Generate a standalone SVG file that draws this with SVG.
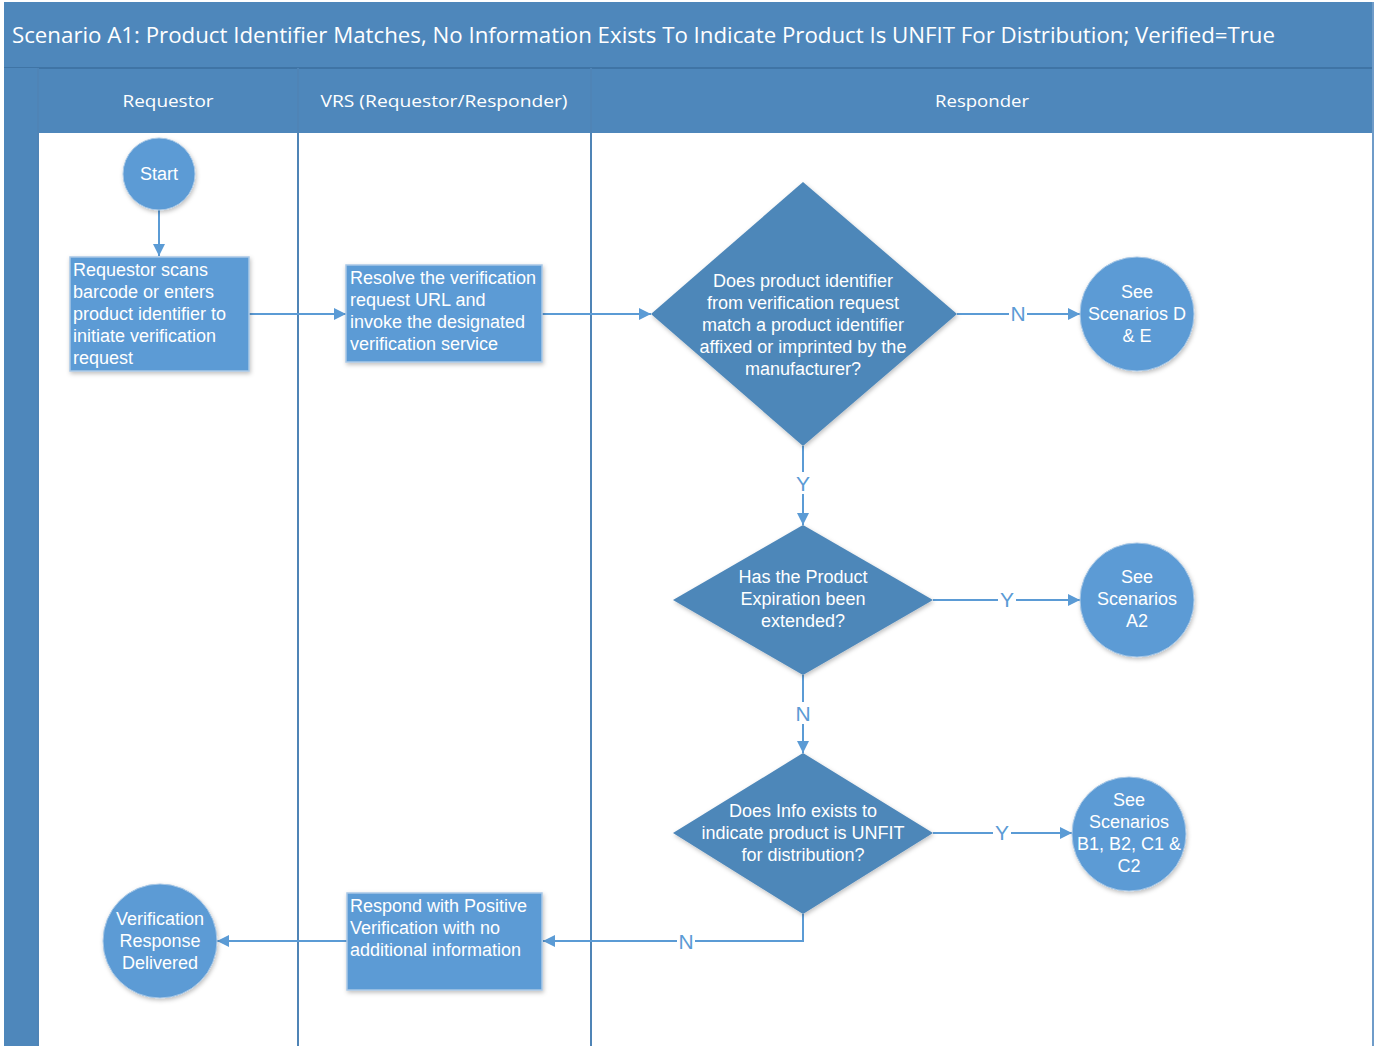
<svg xmlns="http://www.w3.org/2000/svg" width="1381" height="1046" viewBox="0 0 1381 1046">
<defs>
<style>
.band{fill:#4e87bb}
.lane{stroke:#4f84b6;stroke-width:2;fill:none}
.hdr{font-family:"Open Sans","Noto Sans",sans-serif;font-size:17px;fill:#ffffff;text-anchor:middle}
.box{fill:#5b9bd5;stroke:#a9c8e6;stroke-width:1.5;filter:url(#sh)}
.circ{fill:#5b9bd5;stroke:#a9c8e6;stroke-width:1;filter:url(#sh)}
.dia{fill:#4e87b9;filter:url(#sh)}
.t{font-family:"Liberation Sans",Arial,sans-serif;font-size:18px;fill:#ffffff}
.c{text-anchor:middle}
.con{stroke:#5b9bd5;stroke-width:2;fill:none}
.lbl{font-family:"Liberation Sans",Arial,sans-serif;font-size:21px;fill:#5b9bd5;text-anchor:middle}
</style>
<marker id="ah" viewBox="0 0 10 10" refX="10" refY="5" markerWidth="12" markerHeight="12" orient="auto" markerUnits="userSpaceOnUse">
<path d="M0,0 L10,5 L0,10 z" fill="#5b9bd5"/>
</marker>
<filter id="sh" x="-20%" y="-20%" width="140%" height="140%">
<feDropShadow dx="1" dy="2" stdDeviation="2" flood-color="#000000" flood-opacity="0.25"/>
</filter>
</defs>
<rect x="0" y="0" width="1381" height="1046" fill="#ffffff"/>
<g id="pool">
<rect class="band" x="4" y="2" width="1370" height="66"/>
<rect class="band" x="4" y="68" width="1370" height="65"/>
<line x1="4" y1="68" x2="1374" y2="68" stroke="#3f74a5" stroke-width="2"/>
<rect class="band" x="4" y="68" width="34" height="978"/>
<line class="lane" x1="38" y1="68" x2="38" y2="1046"/>
<line class="lane" x1="298" y1="68" x2="298" y2="1046"/>
<line class="lane" x1="591" y1="68" x2="591" y2="1046"/>
<line x1="1373" y1="2" x2="1373" y2="1046" stroke="#6f9cc9" stroke-width="2"/>
<text x="12" y="43" font-family="Open Sans,Noto Sans,sans-serif" font-size="22" fill="#ffffff" textLength="1263" lengthAdjust="spacingAndGlyphs">Scenario A1: Product Identifier Matches, No Information Exists To Indicate Product Is UNFIT For Distribution; Verified=True</text>
<text class="hdr" x="168" y="107" textLength="91" lengthAdjust="spacingAndGlyphs">Requestor</text>
<text class="hdr" x="444" y="107" textLength="247" lengthAdjust="spacingAndGlyphs">VRS (Requestor/Responder)</text>
<text class="hdr" x="982" y="107" textLength="94" lengthAdjust="spacingAndGlyphs">Responder</text>
</g>
<g id="connectors">
<line class="con" x1="159" y1="210" x2="159" y2="256" marker-end="url(#ah)"/>
<line class="con" x1="249" y1="314" x2="346" y2="314" marker-end="url(#ah)"/>
<line class="con" x1="542" y1="314" x2="651" y2="314" marker-end="url(#ah)"/>
<line class="con" x1="957" y1="314" x2="1080" y2="314" marker-end="url(#ah)"/>
<line class="con" x1="803" y1="446" x2="803" y2="525" marker-end="url(#ah)"/>
<line class="con" x1="933" y1="600" x2="1080" y2="600" marker-end="url(#ah)"/>
<line class="con" x1="803" y1="675" x2="803" y2="753" marker-end="url(#ah)"/>
<line class="con" x1="933" y1="833" x2="1072" y2="833" marker-end="url(#ah)"/>
<polyline class="con" points="803,914 803,941 543,941" marker-end="url(#ah)"/>
<line class="con" x1="347" y1="941" x2="217" y2="941" marker-end="url(#ah)"/>
<rect x="1009" y="302" width="18" height="22" fill="#ffffff"/>
<text class="lbl" x="1018" y="321">N</text>
<rect x="794" y="472" width="18" height="22" fill="#ffffff"/>
<text class="lbl" x="803" y="491">Y</text>
<rect x="998" y="588" width="18" height="22" fill="#ffffff"/>
<text class="lbl" x="1007" y="607">Y</text>
<rect x="794" y="702" width="18" height="22" fill="#ffffff"/>
<text class="lbl" x="803" y="721">N</text>
<rect x="993" y="821" width="18" height="22" fill="#ffffff"/>
<text class="lbl" x="1002" y="840">Y</text>
<rect x="677" y="930" width="18" height="22" fill="#ffffff"/>
<text class="lbl" x="686" y="949">N</text>
</g>
<g id="start">
<circle class="circ" cx="159" cy="174" r="36"/>
<text class="t c" x="159" y="180">Start</text>
</g>
<g id="scan">
<rect class="box" x="70" y="257" width="179" height="114"/>
<text class="t" x="73" y="276">Requestor scans</text>
<text class="t" x="73" y="298">barcode or enters</text>
<text class="t" x="73" y="320">product identifier to</text>
<text class="t" x="73" y="342">initiate verification</text>
<text class="t" x="73" y="364">request</text>
</g>
<g id="resolve">
<rect class="box" x="346" y="265" width="196" height="97"/>
<text class="t" x="350" y="284">Resolve the verification</text>
<text class="t" x="350" y="306">request URL and</text>
<text class="t" x="350" y="328">invoke the designated</text>
<text class="t" x="350" y="350">verification service</text>
</g>
<g id="d1">
<polygon class="dia" points="803,182 957,314 803,446 651,314"/>
<text class="t c" x="803" y="287">Does product identifier</text>
<text class="t c" x="803" y="309">from verification request</text>
<text class="t c" x="803" y="331">match a product identifier</text>
<text class="t c" x="803" y="353">affixed or imprinted by the</text>
<text class="t c" x="803" y="375">manufacturer?</text>
</g>
<g id="seeDE">
<circle class="circ" cx="1137" cy="314" r="57"/>
<text class="t c" x="1137" y="298">See</text>
<text class="t c" x="1137" y="320">Scenarios D</text>
<text class="t c" x="1137" y="342">&amp; E</text>
</g>
<g id="d2">
<polygon class="dia" points="803,525 933,600 803,675 673,600"/>
<text class="t c" x="803" y="583">Has the Product</text>
<text class="t c" x="803" y="605">Expiration been</text>
<text class="t c" x="803" y="627">extended?</text>
</g>
<g id="seeA2">
<circle class="circ" cx="1137" cy="600" r="57"/>
<text class="t c" x="1137" y="583">See</text>
<text class="t c" x="1137" y="605">Scenarios</text>
<text class="t c" x="1137" y="627">A2</text>
</g>
<g id="d3">
<polygon class="dia" points="803,753 933,833 803,914 673,833"/>
<text class="t c" x="803" y="817">Does Info exists to</text>
<text class="t c" x="803" y="839">indicate product is UNFIT</text>
<text class="t c" x="803" y="861">for distribution?</text>
</g>
<g id="seeBC">
<circle class="circ" cx="1129" cy="834" r="57"/>
<text class="t c" x="1129" y="806">See</text>
<text class="t c" x="1129" y="828">Scenarios</text>
<text class="t c" x="1129" y="850">B1, B2, C1 &amp;</text>
<text class="t c" x="1129" y="872">C2</text>
</g>
<g id="respond">
<rect class="box" x="347" y="893" width="195" height="97"/>
<text class="t" x="350" y="912">Respond with Positive</text>
<text class="t" x="350" y="934">Verification with no</text>
<text class="t" x="350" y="956">additional information</text>
</g>
<g id="delivered">
<circle class="circ" cx="160" cy="941" r="57"/>
<text class="t c" x="160" y="925">Verification</text>
<text class="t c" x="160" y="947">Response</text>
<text class="t c" x="160" y="969">Delivered</text>
</g>
</svg>
